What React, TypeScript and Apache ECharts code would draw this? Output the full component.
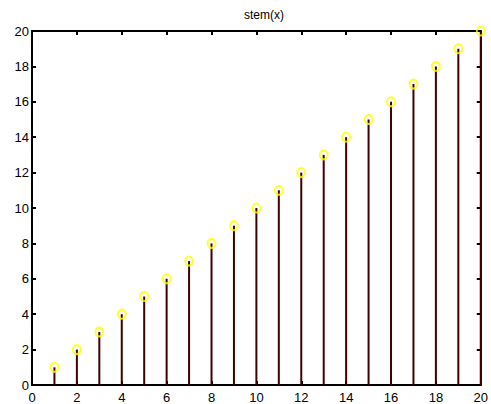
import React, { useEffect, useRef } from "react";
import * as echarts from "echarts";

const xValues = [1, 2, 3, 4, 5, 6, 7, 8, 9, 10, 11, 12, 13, 14, 15, 16, 17, 18, 19, 20];
const yValues = [1, 2, 3, 4, 5, 6, 7, 8, 9, 10, 11, 12, 13, 14, 15, 16, 17, 18, 19, 20];
const titleText = "stem(x)";

export default function App() {
  const ref = useRef<HTMLDivElement>(null);
  useEffect(() => {
    const chart = echarts.init(ref.current!, null, { renderer: "svg" });
    const pts = xValues.map((x, i) => [x, yValues[i]]);
    const axisCommon = {
      min: 0,
      max: 20,
      interval: 2,
      axisLine: { show: true, onZero: false, lineStyle: { color: "#000", width: 2 } },
      axisTick: { show: true, inside: true, length: 4, lineStyle: { color: "#000", width: 2 } },
      splitLine: { show: false },
    };
    const labelStyle = { color: "#000", fontFamily: "Liberation Sans, Arial, sans-serif", fontSize: 13 };
    chart.setOption({
      animation: false,
      backgroundColor: "#fff",
      title: {
        text: titleText,
        left: 259,
        textAlign: "center",
        top: 4,
        textStyle: { fontSize: 12, fontWeight: "normal", color: "#000", fontFamily: "Liberation Sans, Arial, sans-serif" },
      },
      grid: { left: 32, right: 4, top: 31, bottom: 18, containLabel: false },
      xAxis: [
        { type: "value", position: "bottom", ...axisCommon, axisLabel: { ...labelStyle, margin: 6 } },
        { type: "value", position: "top", ...axisCommon, axisLabel: { show: false } },
      ],
      yAxis: [
        { type: "value", position: "left", ...axisCommon, axisLabel: { ...labelStyle, margin: 3 } },
        { type: "value", position: "right", ...axisCommon, axisLabel: { show: false } },
      ],
      series: [
        {
          type: "custom",
          xAxisIndex: 0,
          yAxisIndex: 0,
          data: pts,
          renderItem: (params: any, api: any) => {
            const x = api.value(0);
            const y = api.value(1);
            const p0 = api.coord([x, 0]);
            const p1 = api.coord([x, y]);
            return {
              type: "line",
              shape: { x1: p0[0], y1: p0[1], x2: p1[0], y2: p1[1] },
              style: { stroke: "#400000", lineWidth: 2 },
            };
          },
          z: 2,
        },
        {
          type: "scatter",
          xAxisIndex: 0,
          yAxisIndex: 0,
          data: pts,
          symbol: "circle",
          symbolSize: [8, 9],
          itemStyle: { color: "none", borderColor: "#ffff00", borderWidth: 2 },
          z: 3,
        },
      ],
    });
    return () => chart.dispose();
  }, []);
  return <div ref={ref} style={{ width: 491, height: 404, position: "absolute", left: 0, top: 0 }} />;
}
